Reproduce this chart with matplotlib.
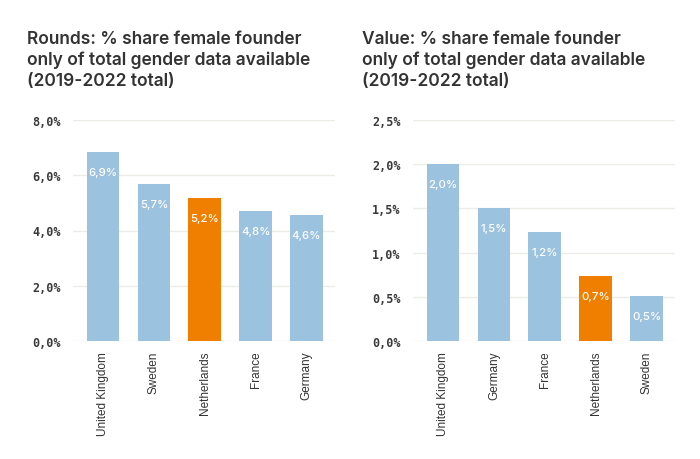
import matplotlib.pyplot as plt
from matplotlib.ticker import FuncFormatter

rounds_countries = ['United Kingdom', 'Sweden', 'Netherlands', 'France', 'Germany']
rounds_share = [6.85, 5.69, 5.18, 4.72, 4.57]
rounds_labels = ['6,9%', '5,7%', '5,2%', '4,8%', '4,6%']

value_countries = ['United Kingdom', 'Germany', 'France', 'Netherlands', 'Sweden']
value_share = [2.0, 1.51, 1.23, 0.735, 0.51]
value_labels = ['2,0%', '1,5%', '1,2%', '0,7%', '0,5%']

titles = ['Rounds: % share female founder\nonly of total gender data available\n(2019-2022 total)',
          'Value: % share female founder\nonly of total gender data available\n(2019-2022 total)']

BLUE = '#9bc2de'
ORANGE = '#f07f00'
GRID = '#eeebe6'

fig = plt.figure(figsize=(7, 4.6), dpi=100)
W, H = 700, 460

def add_panel(x0, x1, countries, vals, labels, ymax, step, title, tx):
    ax = fig.add_axes([x0 / W, 1 - 342 / H, (x1 - x0) / W, (342 - 121) / H])
    colors = [ORANGE if c == 'Netherlands' else BLUE for c in countries]
    xs = range(len(countries))
    ax.bar(xs, vals, width=0.64, color=colors, zorder=2)
    ax.set_xlim(-0.59, len(countries) - 1 + 0.56)
    ax.set_ylim(0, ymax)
    ticks = [i * step for i in range(int(round(ymax / step)) + 1)]
    ax.set_yticks(ticks)
    ax.yaxis.set_major_formatter(FuncFormatter(lambda v, p: f'{v:.1f}%'.replace('.', ',')))
    for lab in ax.get_yticklabels():
        lab.set_family('DejaVu Sans Mono')
        lab.set_fontsize(8.5)
        lab.set_fontweight('bold')
        lab.set_color('#3a3a3a')
    ax.set_xticks(list(xs))
    ax.set_xticklabels(countries, rotation=90, fontsize=8.5, family='Liberation Sans', color='#333333')
    ax.tick_params(axis='both', length=0)
    ax.tick_params(axis='y', pad=9)
    ax.tick_params(axis='x', pad=7)
    ax.grid(axis='y', color=GRID, linewidth=1, zorder=0)
    for s in ax.spines.values():
        s.set_visible(False)
    for x, v, l in zip(xs, vals, labels):
        ax.annotate(l, (x, v), xytext=(0, -14.5), textcoords='offset points',
                    ha='center', va='center', color='white', fontsize=8.2,
                    family='Inter', fontweight='medium')
    fig.text(tx / W, 1 - 31 / H, title, ha='left', va='top', fontsize=12.5,
             family='Inter', fontweight='semibold', color='#333333', linespacing=1.28)

add_panel(73, 335, rounds_countries, rounds_share, rounds_labels, 8, 2, titles[0], 27)
add_panel(413, 675, value_countries, value_share, value_labels, 2.5, 0.5, titles[1], 362)

fig.savefig('out.png', dpi=100)
